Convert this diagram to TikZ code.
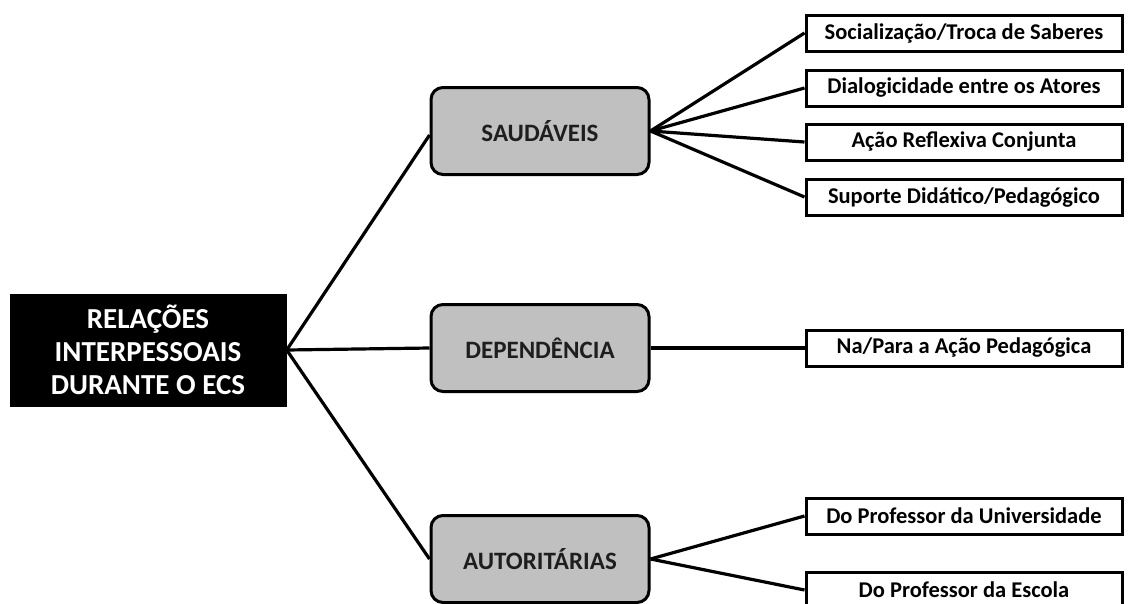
\documentclass[tikz,border=0pt]{standalone}
\usepackage{fontspec}
\setmainfont{Carlito}
\begin{document}
\begin{tikzpicture}[x=1pt,y=-1pt,
  rootbox/.style={fill=black,text=white,minimum width=277pt,minimum height=113pt,inner sep=0pt,
    align=center,font=\bfseries\fontsize{29}{33}\selectfont},
  midbox/.style={draw=black,line width=3pt,fill={rgb,255:red,192;green,192;blue,192},rounded corners=12pt,
    minimum width=218pt,minimum height=87pt,inner sep=0pt,text={rgb,255:red,30;green,30;blue,30},
    font=\bfseries\fontsize{25}{28}\selectfont},
  leafbox/.style={draw=black,line width=3pt,fill=white,minimum width=316pt,minimum height=36pt,inner sep=0pt,
    font=\bfseries\fontsize{22.5}{26}\selectfont},
  conn/.style={line width=3.2pt,black}]
\useasboundingbox (0,0) rectangle (1133,603);
\node[rootbox] (root) at (148,350) {RELAÇÕES\\INTERPESSOAIS\\DURANTE O ECS};
\node[midbox] (sau) at (540,131) {SAUDÁVEIS};
\node[midbox] (dep) at (540,348) {DEPENDÊNCIA};
\node[midbox] (aut) at (540,559) {AUTORITÁRIAS};
\node[leafbox] (l1) at (964,33) {Socialização/Troca de Saberes};
\node[leafbox] (l2) at (964,88) {Dialogicidade entre os Atores};
\node[leafbox] (l3) at (964,142) {Ação Reflexiva Conjunta};
\node[leafbox] (l4) at (964,197) {Suporte Didático/Pedagógico};
\node[leafbox] (l5) at (964,348) {Na/Para a Ação Pedagógica};
\node[leafbox] (l6) at (964,516) {Do Professor da Universidade};
\node[leafbox] (l7) at (964,590) {Do Professor da Escola};
\draw[conn] (root.east) -- ([yshift=-4pt]sau.west);
\draw[conn] (root.east) -- (dep.west);
\draw[conn] (root.east) -- (aut.west);
\foreach \l in {l1,l2,l3,l4} \draw[conn] (sau.east) -- (\l.west);
\draw[conn] (dep.east) -- (l5.west);
\draw[conn] (aut.east) -- (l6.west);
\draw[conn] (aut.east) -- (l7.west);
\end{tikzpicture}
\end{document}
